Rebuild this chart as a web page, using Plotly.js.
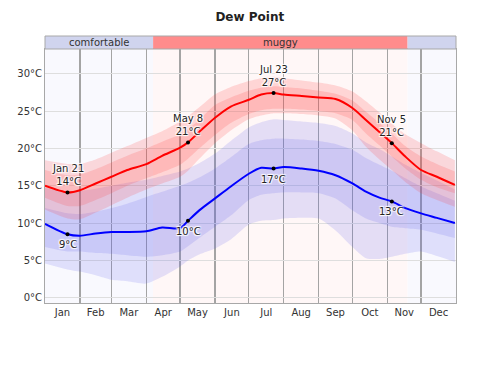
<!DOCTYPE html>
<html>
<head>
<meta charset="utf-8">
<script src="https://cdn.plot.ly/plotly-3.0.1.min.js"></script>
<style>html,body{margin:0;padding:0;background:#fff;}#chart{width:485px;height:372px;}</style>
</head>
<body>
<div id="chart"></div>
<script>
// ---- data (dew point, °C) ----
const dates = ['2023-01-01','2023-01-21','2023-02-01','2023-02-15','2023-03-01','2023-03-15','2023-04-01','2023-04-15','2023-05-01','2023-05-08','2023-05-18','2023-06-01','2023-06-15','2023-07-01','2023-07-12','2023-07-23','2023-08-01','2023-08-17','2023-09-01','2023-09-16','2023-10-01','2023-10-13','2023-10-25','2023-11-05','2023-11-17','2023-12-01','2023-12-15','2023-12-31'];

const highP90 = [18.4,17.9,17.9,18.5,19.4,20.3,21.4,22.3,23.6,24.3,25.5,27.2,28.2,29.0,29.4,29.6,29.4,29.1,28.8,28.4,27.6,26.3,24.8,23.3,21.9,20.7,19.6,18.4];
const highP75 = [17.1,16.4,16.5,17.2,18.1,19.0,20.0,20.9,21.9,22.6,23.8,25.8,26.8,27.7,28.1,28.3,28.2,28.0,27.7,27.3,26.4,24.9,23.4,22.0,20.3,18.9,17.9,16.9];
const highMean = [15.0,14.1,14.4,15.3,16.2,17.1,17.9,19.0,20.1,20.8,22.2,24.1,25.6,26.5,27.2,27.4,27.2,27.0,26.8,26.6,25.4,23.8,22.2,20.7,18.9,17.1,16.2,15.1];
const highP25 = [13.4,12.3,12.3,13.1,14.0,15.0,16.0,16.8,17.8,18.6,20.0,21.8,23.4,24.6,25.1,25.3,25.3,25.2,25.0,24.7,23.8,22.0,20.4,18.9,17.3,15.8,14.8,14.0];
const highP10 = [11.8,10.6,10.5,11.4,12.4,13.4,14.5,15.3,16.2,17.0,18.6,20.7,22.4,23.9,24.4,24.7,24.7,24.6,24.4,24.0,22.4,20.2,18.5,17.1,15.5,14.0,13.1,12.2];

const lowP90 = [14.7,14.3,14.3,14.6,15.0,15.4,15.8,16.3,16.9,17.3,18.0,19.3,21.0,22.8,23.5,23.9,23.8,23.6,23.4,23.0,22.0,20.8,19.9,18.9,17.8,16.7,15.7,14.5];
const lowP75 = [12.0,11.3,11.2,11.5,12.0,12.6,13.5,14.2,15.0,15.4,16.1,17.3,18.8,20.6,21.1,21.3,21.3,21.2,21.0,20.6,19.8,18.7,17.8,17.0,16.0,14.9,14.0,13.0];
const lowMean = [9.9,8.5,8.3,8.6,8.8,8.8,8.9,9.4,9.3,10.3,11.7,13.3,14.9,16.6,17.4,17.3,17.5,17.3,17.0,16.4,15.3,14.2,13.4,12.9,12.0,11.3,10.7,10.0];
const lowP25 = [6.8,6.2,6.2,6.0,5.9,5.7,5.5,5.7,6.2,6.9,8.0,9.5,11.0,13.1,13.8,14.0,14.1,14.1,14.0,13.3,11.7,10.6,10.0,9.5,9.3,9.1,8.6,8.0];
const lowP10 = [4.6,3.8,3.5,3.0,2.4,2.2,1.9,2.8,4.2,5.0,5.8,6.6,7.8,9.8,10.3,10.4,10.6,10.7,10.6,9.0,6.8,5.3,5.2,5.5,5.9,6.2,5.6,4.8];

// labelled days (indices into dates)
const labelIdx = [1, 9, 15, 23];
const labelNames = ['Jan 21','May 8','Jul 23','Nov 5'];

// y-axis ticks
const yTickVals = [0,5,10,15,20,25,30];
const yTickText = ['0°C','5°C','10°C','15°C','20°C','25°C','30°C'];

// comfort bands along the top
const bandStarts = ['2023-01-01','2023-04-07','2023-11-19'];
const bandEnds   = ['2023-04-07','2023-11-19','2024-01-01'];
const bandLabels = ['comfortable','muggy',''];
const bandColors = ['#d0d4ee','#ff8c8c','#d0d4ee'];
const bgColors   = ['#f9f9fe','#fff7f7','#f9f9fe'];

const FONT = 'DejaVu Sans, Verdana, sans-serif';
const blueA = 'rgba(90,90,235,0.16)';
const redA = 'rgba(255,60,60,0.18)';

function band(lo, hi, color){
  return [
    {x: dates, y: lo, mode:'lines', line:{width:0, color:'rgba(0,0,0,0)', shape:'spline', smoothing:0.7}, hoverinfo:'skip', showlegend:false},
    {x: dates, y: hi, mode:'lines', line:{width:0, color:'rgba(0,0,0,0)', shape:'spline', smoothing:0.7}, fill:'tonexty', fillcolor: color, hoverinfo:'skip', showlegend:false}
  ];
}

const traces = [].concat(
  band(lowP10, lowP90, blueA),
  band(lowP25, lowP75, blueA),
  band(highP10, highP90, redA),
  band(highP25, highP75, redA),
  [
    {x: dates, y: lowMean, mode:'lines', line:{color:'#0000ff', width:2, shape:'spline', smoothing:0.7}, showlegend:false},
    {x: dates, y: highMean, mode:'lines', line:{color:'#ff0000', width:2, shape:'spline', smoothing:0.7}, showlegend:false},
    {x: labelIdx.map(i=>dates[i]), y: labelIdx.map(i=>highMean[i]), mode:'markers', marker:{color:'#000', size:4}, showlegend:false},
    {x: labelIdx.map(i=>dates[i]), y: labelIdx.map(i=>lowMean[i]), mode:'markers', marker:{color:'#000', size:4}, showlegend:false}
  ]
);

const halo = '1px 1px 1px #fff, -1px -1px 1px #fff, 1px -1px 1px #fff, -1px 1px 1px #fff';
const annotations = [];
labelIdx.forEach((i,k)=>{
  annotations.push({x: dates[i], y: highMean[i], xref:'x', yref:'y', text: labelNames[k]+'<br>'+Math.round(highMean[i])+'°C',
    showarrow:false, yanchor:'bottom', yshift:3, align:'center',
    font:{family:FONT, size:10, color:'#222', shadow: halo}});
  annotations.push({x: dates[i], y: lowMean[i], xref:'x', yref:'y', text: Math.round(lowMean[i])+'°C',
    showarrow:false, yanchor:'top', yshift:-3, align:'center',
    font:{family:FONT, size:10, color:'#222', shadow: halo}});
});

const shapes = [];
const bandH = 13/254;
bandStarts.forEach((s,k)=>{
  shapes.push({type:'rect', xref:'x', yref:'paper', x0:s, x1:bandEnds[k], y0:0, y1:1, fillcolor:bgColors[k], line:{width:0}, layer:'below'});
  shapes.push({type:'rect', xref:'x', yref:'paper', x0:s, x1:bandEnds[k], y0:1, y1:1+bandH, fillcolor:bandColors[k], line:{width:0}, layer:'above'});
  if (bandLabels[k]) {
    annotations.push({xref:'x', yref:'paper', x: new Date((new Date(s).getTime()+new Date(bandEnds[k]).getTime())/2).toISOString().slice(0,10),
      y: 1+bandH/2, text: bandLabels[k], showarrow:false, yanchor:'middle',
      font:{family:FONT, size:10, color:'#333'}});
  }
});
shapes.push({type:'rect', xref:'paper', yref:'paper', x0:0, x1:1, y0:1, y1:1+bandH, line:{color:'#a8a8a8', width:1}, fillcolor:'rgba(0,0,0,0)', layer:'above'});

const layout = {
  width:485, height:372,
  margin:{l:45, r:29, t:49, b:69, pad:0},
  paper_bgcolor:'#fff', plot_bgcolor:'rgba(0,0,0,0)',
  title:{text:'<b>Dew Point</b>', x:0.515, xanchor:'center', y:0.955, yanchor:'middle', font:{family:FONT, size:12, color:'#222'}},
  xaxis:{type:'date', range:['2023-01-01','2024-01-01'], dtick:'M1', tick0:'2023-01-01', tickformat:'%b', ticklabelmode:'period',
    showgrid:true, gridcolor:'#a4a4a4', gridwidth:1.3, ticks:'', showline:true, linecolor:'#a8a8a8', mirror:true,
    tickfont:{family:FONT, size:10, color:'#333'}, fixedrange:true, zeroline:false},
  yaxis:{range:[-0.7,33.3], tickmode:'array', tickvals:yTickVals, ticktext:yTickText, showgrid:true, gridcolor:'#dedede', gridwidth:1,
    showline:true, linecolor:'#a8a8a8', mirror:true, zeroline:false, ticks:'', ticklen:2,
    tickfont:{family:FONT, size:10, color:'#333'}, fixedrange:true},
  shapes: shapes,
  annotations: annotations,
  showlegend:false
};

Plotly.newPlot('chart', traces, layout, {displayModeBar:false, staticPlot:true});
</script>
</body>
</html>
